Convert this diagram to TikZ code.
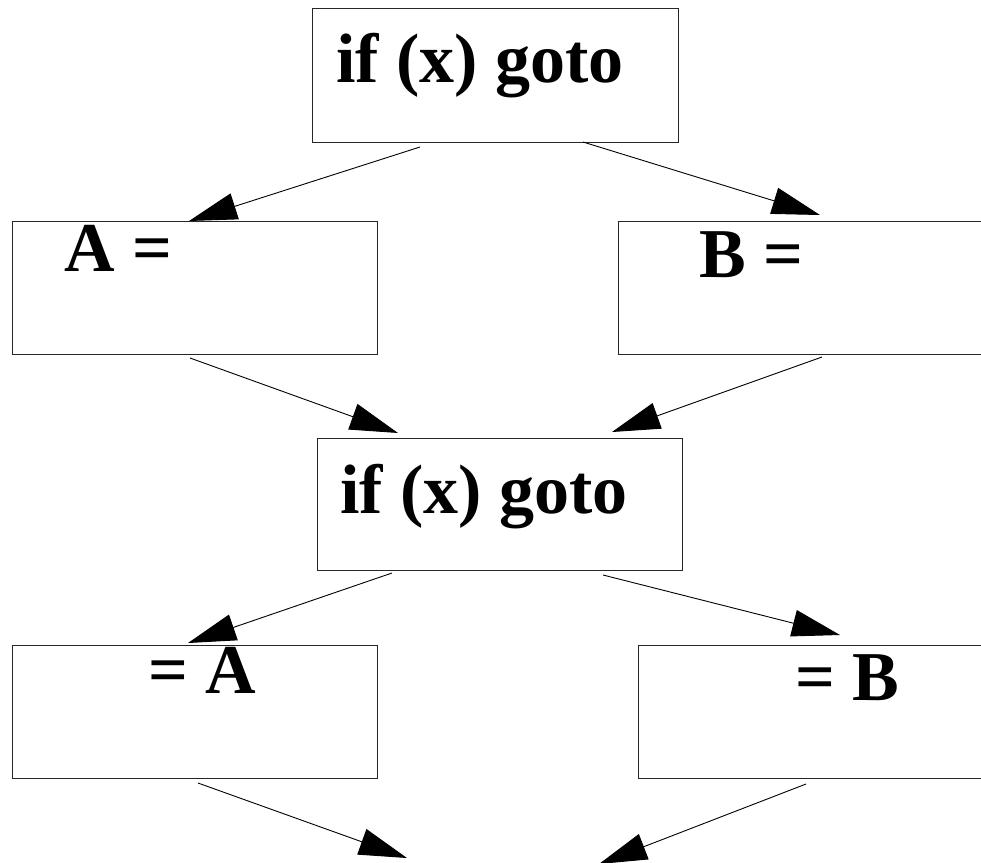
\documentclass[tikz,border=0pt]{standalone}
\usepackage{fontspec}
\setmainfont{Liberation Serif}
\usetikzlibrary{arrows.meta}
\tikzset{
  blk/.style={draw=black!85, line width=1.2pt, rectangle, anchor=north west, inner sep=0pt},
  lbl/.style={anchor=base west, inner sep=0pt, font=\fontsize{70}{80}\selectfont\bfseries},
  arr/.style={line width=0.9pt, -{Triangle[length=48pt,width=27pt]}}
}
\begin{document}
\begin{tikzpicture}[x=1pt,y=-1pt]
\clip (0,0) rectangle (981,862);
\fill[white] (0,0) rectangle (981,862);
% boxes
\node[blk, minimum width=366pt, minimum height=134pt] (top) at (312,8) {};
\node[blk, minimum width=365pt, minimum height=133pt] (ba) at (12,221) {};
\node[blk, minimum width=400pt, minimum height=133pt] (bb) at (618,221) {};
\node[blk, minimum width=365pt, minimum height=132pt] (mid) at (317,438) {};
\node[blk, minimum width=365pt, minimum height=133pt] (ca) at (12,645) {};
\node[blk, minimum width=380pt, minimum height=133pt] (cb) at (638,645) {};
% labels
\node[lbl] (ttop) at (336,82) {if (x) goto};
\node[lbl] (tba) at (64,271) {A =};
\node[lbl] (tbb) at (699,277) {B =};
\node[lbl] (tmid) at (340,513) {if (x) goto};
\node[lbl] (tca) at (148,693) {= A};
\node[lbl] (tcb) at (795,700) {= B};
% connector end points
\coordinate (s1) at (420,147); \coordinate (e1) at (189,221);
\coordinate (s2) at (583,142); \coordinate (e2) at (820,215);
\coordinate (s3) at (190,358); \coordinate (e3) at (398,433);
\coordinate (s4) at (822,357); \coordinate (e4) at (612,432);
\coordinate (s5) at (392,573); \coordinate (e5) at (188,643);
\coordinate (s6) at (603,575); \coordinate (e6) at (840,635);
\coordinate (s7) at (198,783); \coordinate (e7) at (407,858);
\coordinate (s8) at (806,784); \coordinate (e8) at (599,864);
\draw[arr] (s1) -- (e1);
\draw[arr] (s2) -- (e2);
\draw[arr] (s3) -- (e3);
\draw[arr] (s4) -- (e4);
\draw[arr] (s5) -- (e5);
\draw[arr] (s6) -- (e6);
\draw[arr] (s7) -- (e7);
\draw[arr] (s8) -- (e8);
\end{tikzpicture}
\end{document}
